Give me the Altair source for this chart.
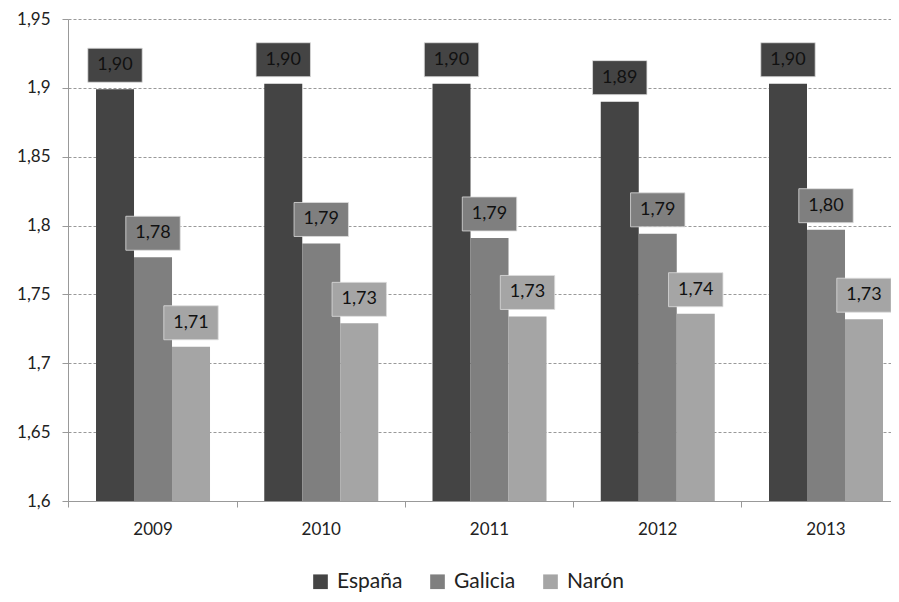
import altair as alt
import pandas as pd

years = ["2009", "2010", "2011", "2012", "2013"]
series = ["España", "Galicia", "Narón"]
espana = [1.899, 1.903, 1.903, 1.890, 1.903]
galicia = [1.777, 1.787, 1.791, 1.794, 1.797]
naron = [1.712, 1.729, 1.734, 1.736, 1.732]
colors = ["#444444", "#7f7f7f", "#a5a5a5"]
y_ticks = [1.6, 1.65, 1.7, 1.75, 1.8, 1.85, 1.9, 1.95]

rows = []
for i, yr in enumerate(years):
    for s, vals in zip(series, [espana, galicia, naron]):
        rows.append({"year": yr, "serie": s, "value": vals[i],
                     "label": f"{vals[i]:.2f}".replace(".", ",")})
df = pd.DataFrame(rows)

FONT = "Lato"

x = alt.X("year:N", title=None,
          scale=alt.Scale(paddingInner=0.3224, paddingOuter=0.107, align=0.778),
          axis=alt.Axis(labelAngle=0, labelFontSize=17, labelFont=FONT, labelColor="#222222",
                        domainColor="#999999", tickColor="#999999", tickSize=6,
                        bandPosition=-0.237, labelPadding=14, grid=False, labelBound=False))
xo = alt.XOffset("serie:N", sort=series, scale=alt.Scale(paddingInner=0, paddingOuter=0))
y = alt.Y("value:Q", title=None,
          scale=alt.Scale(domain=[1.6, 1.95], nice=False, zero=False),
          axis=alt.Axis(values=y_ticks, labelExpr="replace(format(datum.value, ''), '.', ',')",
                        labelFontSize=17, labelFont=FONT, labelColor="#222222",
                        domainColor="#999999", tickColor="#999999", tickSize=6, labelPadding=12,
                        gridColor="#999999", gridDash=[3, 2], gridWidth=1))
color = alt.Color("serie:N", sort=series, scale=alt.Scale(domain=series, range=colors),
                  legend=alt.Legend(title=None, orient="none", direction="horizontal",
                                    legendX=242, legendY=552, symbolType="square",
                                    symbolSize=215, symbolStrokeWidth=0, symbolOpacity=1,
                                    labelFontSize=21, labelFont=FONT, labelColor="#222222",
                                    columnPadding=24, labelOffset=6))

base = alt.Chart(df)

bars = base.mark_bar(clip=True).encode(x=x, xOffset=xo, y=y, color=color)

boxes = base.mark_point(
    shape="M-1.6,-1L1.6,-1L1.6,1L-1.6,1Z", size=1156, filled=True, opacity=1,
    yOffset=-24, stroke="#dddddd", strokeWidth=0.8
).encode(x=x, xOffset=xo, y=alt.Y("value:Q"), fill=alt.Fill("serie:N", sort=series,
         scale=alt.Scale(domain=series, range=colors), legend=None))

texts = base.mark_text(fontSize=18, font=FONT, color="#111111", yOffset=-24,
                       baseline="middle", align="center").encode(
    x=x, xOffset=xo, y=alt.Y("value:Q"), text="label:N")

chart = alt.layer(bars, boxes, texts).properties(
    width=823, height=482,
    autosize=alt.AutoSizeParams(type="none"),
    padding={"left": 60, "top": 11, "right": 0, "bottom": 93},
    background="white"
).configure_view(stroke=None)

chart.save("out.html", embed_options={"renderer": "svg", "actions": False})
